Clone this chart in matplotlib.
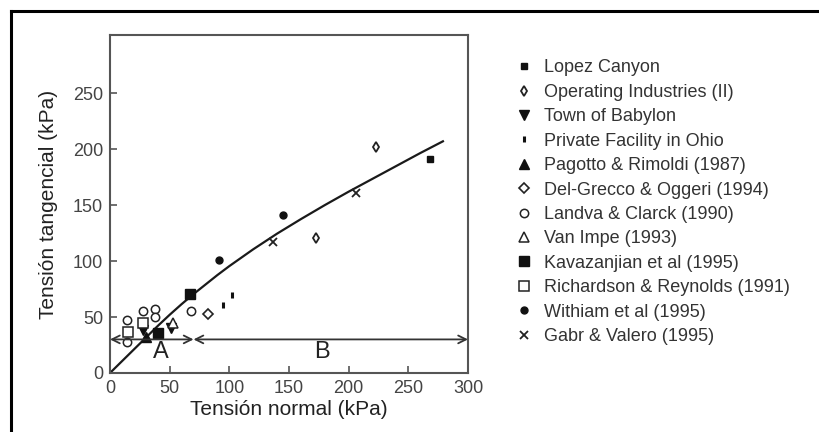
import matplotlib
matplotlib.use("Agg")
import matplotlib.pyplot as plt
from matplotlib.lines import Line2D

plt.rcParams["font.family"] = ["Liberation Sans", "DejaVu Sans"]

# normal stress / shear stress readings (kPa) per data source
lopez_x, lopez_y = [268], [191]
opind_x, opind_y = [223, 173], [202, 121]
babylon_x, babylon_y = [28, 51], [38, 40]
ohio_x, ohio_y = [95, 102], [61, 70]
pagotto_x, pagotto_y = [30], [32]
grecco_x, grecco_y = [82], [53]
landva_x, landva_y = [14, 28, 38, 38, 68, 14], [47, 55, 57, 50, 55, 28]
vanimpe_x, vanimpe_y = [53], [45]
kava_x, kava_y = [67, 40], [71, 36]
richardson_x, richardson_y = [15, 28], [37, 45]
withiam_x, withiam_y = [91, 145], [101, 141]
gabr_x, gabr_y = [137, 206], [117, 161]

# envelope drawn through the data
env_x = [0, 10, 20, 30, 40, 50, 60, 70, 80, 90, 100, 110, 120, 130, 140,
         160, 180, 200, 220, 240, 260, 279]
env_y = [0, 10.5, 21, 31.5, 42, 52, 61.5, 70.5, 79, 87.5, 95.5, 103, 110.5, 117.5, 124.5,
         137.5, 150, 162, 173.5, 185, 196.5, 207]

# zone limits A / B
zone_y = 30
zone_a = (0, 70)
zone_b = (70, 300)

xticks = [0, 50, 100, 150, 200, 250, 300]
yticks = [0, 50, 100, 150, 200, 250]

series = [
    ("Lopez Canyon", lopez_x, lopez_y, dict(marker="s", ms=5, mfc="#111", mec="#111")),
    ("Operating Industries (II)", opind_x, opind_y, dict(marker="d", ms=5.5, mfc="white", mec="#222", mew=1.3)),
    ("Town of Babylon", babylon_x, babylon_y, dict(marker="v", ms=7, mfc="#111", mec="#111")),
    ("Private Facility in Ohio", ohio_x, ohio_y, dict(marker="|", ms=4, mec="#111", mew=2.2)),
    ("Pagotto & Rimoldi (1987)", pagotto_x, pagotto_y, dict(marker="^", ms=7, mfc="#111", mec="#111")),
    ("Del-Grecco & Oggeri (1994)", grecco_x, grecco_y, dict(marker="D", ms=5.5, mfc="white", mec="#222", mew=1.2)),
    ("Landva & Clarck (1990)", landva_x, landva_y, dict(marker="o", ms=6, mfc="white", mec="#222", mew=1.1)),
    ("Van Impe (1993)", vanimpe_x, vanimpe_y, dict(marker="^", ms=7, mfc="white", mec="#222", mew=1.1)),
    ("Kavazanjian et al (1995)", kava_x, kava_y, dict(marker="s", ms=7, mfc="#111", mec="#111")),
    ("Richardson & Reynolds (1991)", richardson_x, richardson_y, dict(marker="s", ms=6.5, mfc="white", mec="#222", mew=1.1)),
    ("Withiam et al (1995)", withiam_x, withiam_y, dict(marker="o", ms=5, mfc="#111", mec="#111")),
    ("Gabr & Valero (1995)", gabr_x, gabr_y, dict(marker="x", ms=6, mec="#222", mew=1.3)),
]

fig = plt.figure(figsize=(8.19, 4.32), dpi=100)
ax = fig.add_axes([0.1343, 0.1366, 0.4371, 0.7824])

ax.plot(env_x, env_y, color="#1a1a1a", lw=1.6, zorder=2)

handles = []
for label, xs, ys, style in series:
    line, = ax.plot(xs, ys, linestyle="none", label=label, zorder=3, **style)
    handles.append(line)

# zone arrows
for lo, hi in (zone_a, zone_b):
    ax.annotate("", xy=(lo, zone_y), xytext=(hi, zone_y),
                arrowprops=dict(arrowstyle="<->", color="#333", lw=1.3,
                                shrinkA=0, shrinkB=0, mutation_scale=14),
                annotation_clip=False)
ax.text(43, 19, "A", ha="center", va="center", fontsize=17, color="#222")
ax.text(178, 19, "B", ha="center", va="center", fontsize=17, color="#222")

ax.set_xlim(0, 300)
ax.set_ylim(0, 302)
ax.set_xticks(xticks)
ax.set_yticks(yticks)
ax.tick_params(direction="in", length=5, width=1.2, color="#555",
               labelsize=13, labelcolor="#444", pad=5)
for sp in ax.spines.values():
    sp.set_color("#555")
    sp.set_linewidth(1.5)

ax.set_xlabel("Tensión normal (kPa)", fontsize=15, color="#222", labelpad=2)
ax.set_ylabel("Tensión tangencial (kPa)", fontsize=15, color="#222", labelpad=11)

fig.legend(handles=handles, loc="upper left", bbox_to_anchor=(0.62, 0.879),
           frameon=False, fontsize=13, handlelength=1.0, handletextpad=0.6,
           labelspacing=0.41, labelcolor="#333", borderaxespad=0)

# outer frame, top and left edges
fig.add_artist(Line2D([11 / 819, 1.0], [1 - 11 / 432, 1 - 11 / 432],
                      transform=fig.transFigure, color="black", lw=2.2))
fig.add_artist(Line2D([11 / 819, 11 / 819], [0.0, 1 - 11 / 432],
                      transform=fig.transFigure, color="black", lw=2.2))

fig.savefig("out.png", dpi=100)
